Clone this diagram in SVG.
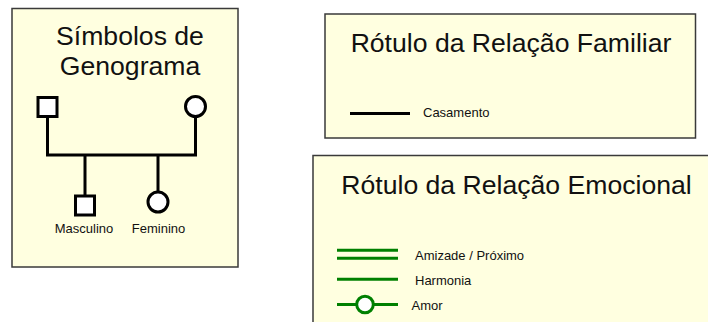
<svg xmlns="http://www.w3.org/2000/svg" width="708" height="322" viewBox="0 0 708 322">
<style>
.panel{fill:#ffffe0;stroke:#3a3a3a;stroke-width:1.5}
.title{font-family:"Liberation Sans",Arial,sans-serif;font-size:26.6px;fill:#111;text-anchor:middle}
.lbl{font-family:"Liberation Sans",Arial,sans-serif;font-size:13px;fill:#111}
.sym{fill:#fff;stroke:#000;stroke-width:3}
.blk{stroke:#000;stroke-width:3;fill:none}
.grn{stroke:#008000;stroke-width:3;fill:none}
</style>
<g id="genogram-symbols">
<rect class="panel" x="12" y="8.5" width="226" height="258.5"/>
<text class="title" x="130" y="45">Símbolos de</text>
<text class="title" x="130" y="75">Genograma</text>
</g>
<g id="connectors">
<path class="blk" d="M47.5 117V155H195.5V117M85 155V196M158 155V192"/>
</g>
<g id="father"><rect class="sym" x="38" y="97.5" width="19" height="19"/></g>
<g id="mother"><circle class="sym" cx="195.5" cy="106.5" r="10"/></g>
<g id="son">
<rect class="sym" x="75.5" y="196" width="19" height="19"/>
<text class="lbl" x="84" y="233" text-anchor="middle">Masculino</text>
</g>
<g id="daughter">
<circle class="sym" cx="158" cy="202" r="10"/>
<text class="lbl" x="158.5" y="233" text-anchor="middle">Feminino</text>
</g>
<g id="family-legend">
<rect class="panel" x="325" y="14" width="370.5" height="124"/>
<text class="title" x="511" y="52">Rótulo da Relação Familiar</text>
<line class="blk" x1="350" y1="113.5" x2="410" y2="113.5"/>
<text class="lbl" x="423" y="117">Casamento</text>
</g>
<g id="emotional-legend">
<rect class="panel" x="313" y="155.5" width="400" height="180"/>
<text class="title" x="516.5" y="193.5">Rótulo da Relação Emocional</text>
<line class="grn" x1="337" y1="250.2" x2="398" y2="250.2"/>
<line class="grn" x1="337" y1="258.3" x2="398" y2="258.3"/>
<text class="lbl" x="415" y="260">Amizade / Próximo</text>
<line class="grn" x1="337" y1="279.3" x2="398" y2="279.3"/>
<text class="lbl" x="415" y="285">Harmonia</text>
<line class="grn" x1="337" y1="304.5" x2="357" y2="304.5"/>
<line class="grn" x1="373.5" y1="304.5" x2="398" y2="304.5"/>
<circle cx="365" cy="304.5" r="8.3" fill="#fff" stroke="#008000" stroke-width="3"/>
<text class="lbl" x="411.5" y="309.5">Amor</text>
</g>
</svg>
